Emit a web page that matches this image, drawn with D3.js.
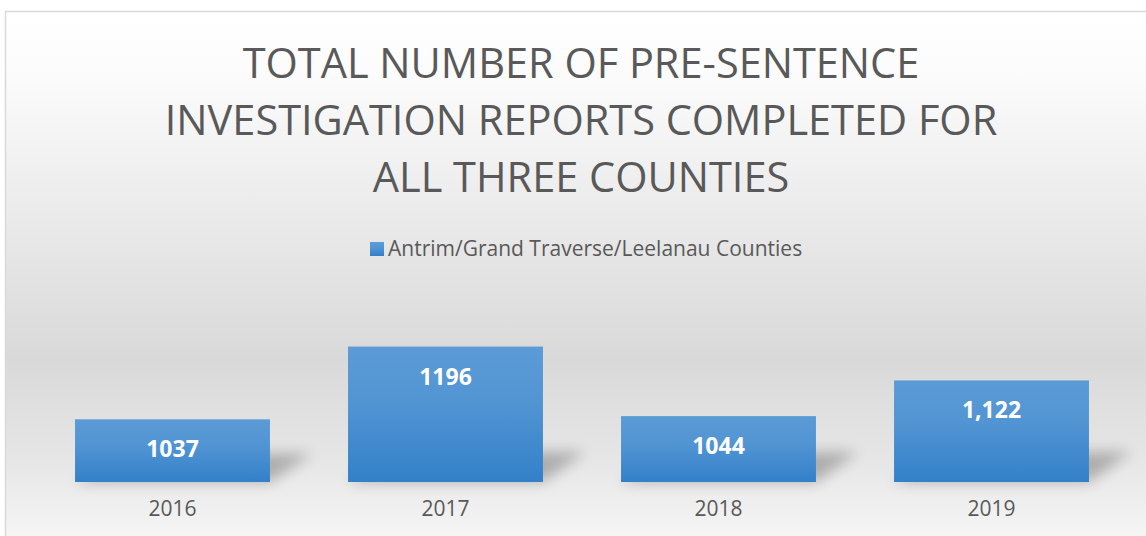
<!DOCTYPE html>
<html>
<head>
<meta charset="utf-8">
<script src="https://cdn.jsdelivr.net/npm/d3@7"></script>
<style>
  html, body { margin: 0; padding: 0; background: #fff; }
  svg text { font-family: "Open Sans", "Noto Sans", sans-serif; }
</style>
</head>
<body>
<div id="chart"></div>
<script>
// data
var years = ["2016", "2017", "2018", "2019"];
var reports = [1037, 1196, 1044, 1122];
var valueLabels = ["1037", "1196", "1044", "1,122"];
var seriesName = "Antrim/Grand Traverse/Leelanau Counties";
var titleLines = ["TOTAL NUMBER OF PRE-SENTENCE", "INVESTIGATION REPORTS COMPLETED FOR", "ALL THREE COUNTIES"];

var width = 1146, height = 536;
var margin = {left: 36, right: 18, top: 299, bottom: 54};

var rows = years.map(function(y, i) {
  return {year: y, value: reports[i], label: valueLabels[i]};
});

var svg = d3.select("#chart").append("svg")
  .attr("width", width)
  .attr("height", height);

var defs = svg.append("defs");

// chart area background: white -> grey -> white
var bg = defs.append("linearGradient")
  .attr("id", "bgGrad")
  .attr("x1", 0).attr("y1", 0).attr("x2", 0).attr("y2", 1);
bg.append("stop").attr("offset", "0%").attr("stop-color", "#ffffff");
bg.append("stop").attr("offset", "12%").attr("stop-color", "#fbfbfb");
bg.append("stop").attr("offset", "62%").attr("stop-color", "#d9d9d9");
bg.append("stop").attr("offset", "80%").attr("stop-color", "#e6e6e6");
bg.append("stop").attr("offset", "100%").attr("stop-color", "#fcfcfc");

var barGrad = defs.append("linearGradient")
  .attr("id", "barGrad")
  .attr("x1", 0).attr("y1", 0).attr("x2", 0).attr("y2", 1);
barGrad.append("stop").attr("offset", "0%").attr("stop-color", "#5b9bd6");
barGrad.append("stop").attr("offset", "40%").attr("stop-color", "#5295d3");
barGrad.append("stop").attr("offset", "100%").attr("stop-color", "#3380c9");

defs.append("filter")
  .attr("id", "blur")
  .attr("x", "-50%").attr("y", "-50%").attr("width", "200%").attr("height", "200%")
  .append("feGaussianBlur")
  .attr("stdDeviation", 7);

svg.append("rect")
  .attr("x", 5.5).attr("y", 11.5)
  .attr("width", 1160).attr("height", 560)
  .style("fill", "url(#bgGrad)")
  .style("stroke", "#d9d9d9")
  .style("stroke-width", 1.5);

// title
svg.append("text")
  .attr("text-anchor", "middle")
  .style("font-size", "41.5px")
  .style("fill", "#595959")
  .selectAll("tspan")
  .data(titleLines)
  .enter()
  .append("tspan")
  .attr("x", 581)
  .attr("y", function(d, i) { return 78 + i * 57; })
  .text(function(d) { return d; });

// legend
var legend = svg.append("g").attr("transform", "translate(370,242)");
legend.append("rect")
  .attr("width", 14).attr("height", 14)
  .style("fill", "url(#barGrad)");
legend.append("text")
  .attr("x", 18).attr("y", 14)
  .style("font-size", "21px")
  .style("fill", "#595959")
  .text(seriesName);

var x = d3.scaleBand()
  .domain(years)
  .range([margin.left, width - margin.right + 0])
  .paddingInner(0.286)
  .paddingOuter(0.143);

var y = d3.scaleLinear()
  .domain([900, 1300])
  .range([height - margin.bottom, margin.top]);

var base = y(900);

// perspective shadows
svg.selectAll("path.shadow")
  .data(rows)
  .enter()
  .append("path")
  .attr("class", "shadow")
  .attr("d", function(d) {
    var x0 = x(d.year), x1 = x(d.year) + x.bandwidth();
    var h = Math.min(30, (base - y(d.value)) * 0.45), dx = 42;
    return "M" + x0 + "," + base + "L" + x1 + "," + base +
      "L" + (x1 + dx) + "," + (base - h) + "L" + (x0 + dx) + "," + (base - h) + "Z";
  })
  .style("fill", "#000")
  .style("opacity", 0.25)
  .attr("filter", "url(#blur)");

svg.selectAll("rect.bar")
  .data(rows)
  .enter()
  .append("rect")
  .attr("class", "bar")
  .attr("x", function(d) { return x(d.year); })
  .attr("y", function(d) { return y(d.value); })
  .attr("width", x.bandwidth())
  .attr("height", function(d) { return base - y(d.value); })
  .style("fill", "url(#barGrad)");

svg.selectAll("text.val")
  .data(rows)
  .enter()
  .append("text")
  .attr("class", "val")
  .attr("x", function(d) { return x(d.year) + x.bandwidth() / 2; })
  .attr("y", function(d) { return y(d.value) + 38; })
  .attr("text-anchor", "middle")
  .style("font-size", "23px")
  .style("font-weight", "bold")
  .style("fill", "#fff")
  .text(function(d) { return d.label; });

// category axis, no line or ticks
var xAxis = svg.append("g")
  .attr("transform", "translate(0," + base + ")")
  .call(d3.axisBottom(x).tickSize(0).tickPadding(19));
xAxis.select(".domain").remove();
xAxis.selectAll("text")
  .style("font-family", "'Open Sans', sans-serif")
  .style("font-size", "21px")
  .style("fill", "#595959");
</script>
</body>
</html>
